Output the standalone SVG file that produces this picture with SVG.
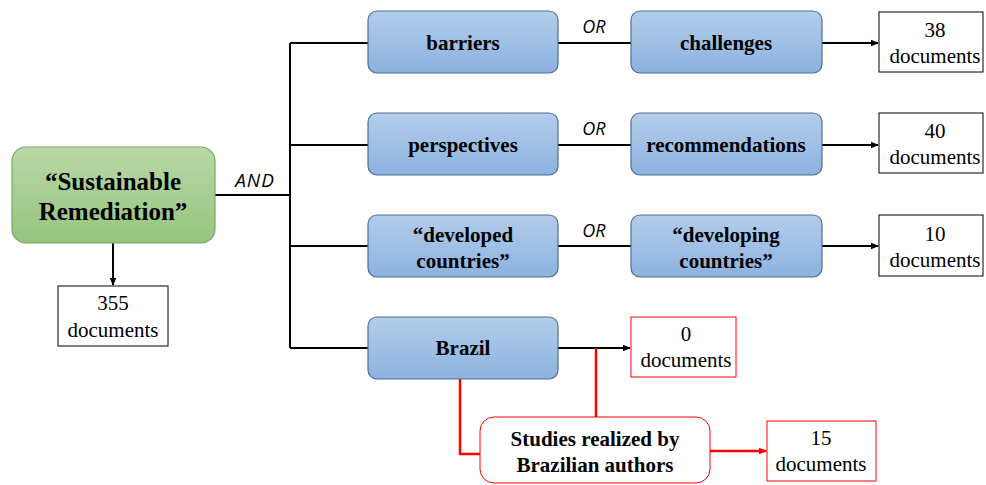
<svg xmlns="http://www.w3.org/2000/svg" width="986" height="485" viewBox="0 0 986 485">
<defs>
<linearGradient id="gb" x1="0" y1="0" x2="0" y2="1"><stop offset="0" stop-color="#b3cdea"/><stop offset="1" stop-color="#8cb2e0"/></linearGradient>
<linearGradient id="gg" x1="0" y1="0" x2="0" y2="1"><stop offset="0" stop-color="#b9d8a8"/><stop offset="1" stop-color="#96c47d"/></linearGradient>
<marker id="ab" markerWidth="8" markerHeight="8" refX="7" refY="4" orient="auto" markerUnits="userSpaceOnUse"><path d="M0,0.8 L8,4 L0,7.2 z" fill="#000"/></marker>
<marker id="ar" markerWidth="8" markerHeight="8" refX="7" refY="4" orient="auto" markerUnits="userSpaceOnUse"><path d="M0,0.8 L8,4 L0,7.2 z" fill="#f00"/></marker>
</defs>
<style>
.blue{fill:url(#gb);stroke:#4f6f92;stroke-width:1.2}
.green{fill:url(#gg);stroke:#7aa760;stroke-width:1.2}
.doc{fill:#fff;stroke:#000;stroke-width:1}
.rdoc{fill:#fff;stroke:#f00;stroke-width:1}
.bt{font-family:"Liberation Serif","Times New Roman","DejaVu Serif",serif;font-weight:bold;font-size:21px;text-anchor:middle;fill:#000}
.gt{font-family:"Liberation Serif","Times New Roman","DejaVu Serif",serif;font-weight:bold;font-size:25px;text-anchor:middle;fill:#000}
.dt{font-family:"Liberation Serif","Times New Roman","DejaVu Serif",serif;font-weight:normal;font-size:21px;text-anchor:middle;fill:#000}
.lb{font-family:"Open Sans","DejaVu Sans",sans-serif;font-style:italic;font-size:18px;text-anchor:middle;fill:#000}
.k{stroke:#000;stroke-width:2;fill:none}
.r{stroke:#f00;stroke-width:2.5;fill:none}
</style>
<g id="connectors">
<path class="k" d="M215,195 H290 M290,43 V348 M290,43 H368 M290,145 H368 M290,246 H368 M290,348 H368"/>
<path class="k" d="M558,43 H631 M558,145 H631 M558,246 H631"/>
<path class="k" d="M822,43 H878" marker-end="url(#ab)"/>
<path class="k" d="M822,145 H878" marker-end="url(#ab)"/>
<path class="k" d="M822,246 H878" marker-end="url(#ab)"/>
<path class="k" d="M113,243 V285" marker-end="url(#ab)"/>
<path class="k" d="M558,348 H630" marker-end="url(#ab)"/>
<path class="r" d="M596,348 V417"/>
<path class="r" d="M460,379 V454 H480"/>
<path class="r" d="M710,451 H766" marker-end="url(#ar)"/>
<text class="lb" x="255" y="187" style="font-size:19px;letter-spacing:1px">AND</text>
<text class="lb" x="594" y="33">OR</text>
<text class="lb" x="594" y="135">OR</text>
<text class="lb" x="594" y="237">OR</text>
</g>
<g id="sustainable">
<rect class="green" x="12" y="147" width="203" height="96" rx="14"/>
<text class="gt" x="113" y="190">“Sustainable</text>
<text class="gt" x="113" y="220">Remediation”</text>
</g>
<g id="doc355">
<rect class="doc" x="58" y="286" width="110" height="60"/>
<text class="dt" x="113" y="310">355</text>
<text class="dt" x="113" y="337">documents</text>
</g>
<g id="barriers">
<rect class="blue" x="368" y="11" width="190" height="62" rx="9"/>
<text class="bt" x="463" y="50">barriers</text>
</g>
<g id="challenges">
<rect class="blue" x="631" y="11" width="191" height="62" rx="9"/>
<text class="bt" x="726" y="50">challenges</text>
</g>
<g id="perspectives">
<rect class="blue" x="368" y="113" width="190" height="62" rx="9"/>
<text class="bt" x="463" y="152">perspectives</text>
</g>
<g id="recommendations">
<rect class="blue" x="631" y="113" width="191" height="62" rx="9"/>
<text class="bt" x="726" y="152">recommendations</text>
</g>
<g id="developed">
<rect class="blue" x="368" y="215" width="190" height="62" rx="9"/>
<text class="bt" x="463" y="242">“developed</text>
<text class="bt" x="463" y="268">countries”</text>
</g>
<g id="developing">
<rect class="blue" x="631" y="215" width="191" height="62" rx="9"/>
<text class="bt" x="726" y="242">“developing</text>
<text class="bt" x="726" y="268">countries”</text>
</g>
<g id="brazil">
<rect class="blue" x="368" y="317" width="190" height="62" rx="9"/>
<text class="bt" x="463" y="355">Brazil</text>
</g>
<g id="doc38">
<rect class="doc" x="879" y="12" width="104" height="60"/>
<text class="dt" x="935" y="37">38</text>
<text class="dt" x="935" y="63">documents</text>
</g>
<g id="doc40">
<rect class="doc" x="879" y="113" width="104" height="60"/>
<text class="dt" x="935" y="138">40</text>
<text class="dt" x="935" y="164">documents</text>
</g>
<g id="doc10">
<rect class="doc" x="879" y="215" width="104" height="61"/>
<text class="dt" x="935" y="241">10</text>
<text class="dt" x="935" y="267">documents</text>
</g>
<g id="doc0">
<rect class="rdoc" x="631" y="317" width="105" height="60"/>
<text class="dt" x="686" y="341">0</text>
<text class="dt" x="686" y="367">documents</text>
</g>
<g id="studies">
<rect class="rdoc" x="480" y="417" width="230" height="66" rx="14"/>
<text class="bt" x="595" y="446">Studies realized by</text>
<text class="bt" x="595" y="472">Brazilian authors</text>
</g>
<g id="doc15">
<rect class="rdoc" x="767" y="421" width="109" height="60"/>
<text class="dt" x="821" y="445">15</text>
<text class="dt" x="821" y="471">documents</text>
</g>
</svg>
